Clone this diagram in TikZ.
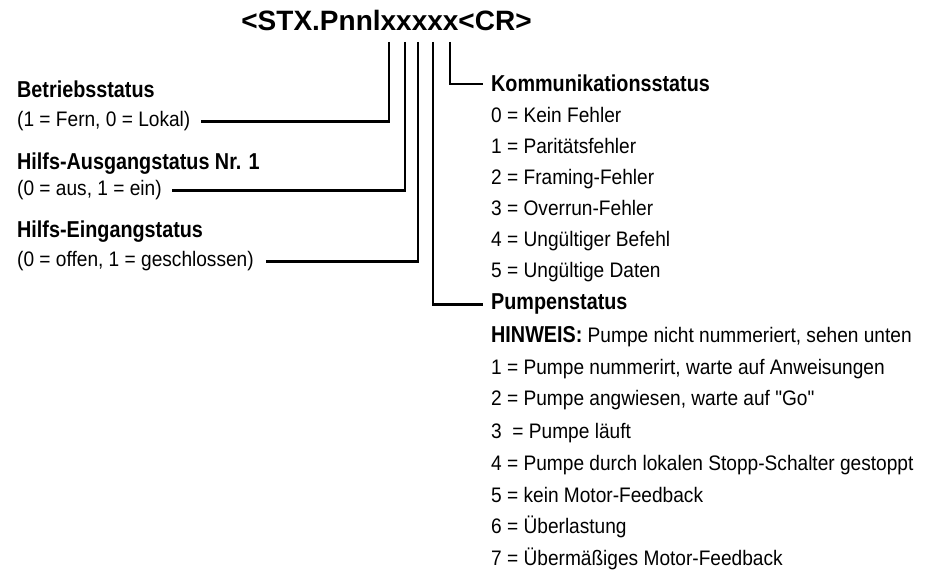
\documentclass[tikz,border=0pt]{standalone}
\usepackage{fontspec}
\setmainfont{Liberation Sans}
\newfontfamily\headfont{Liberation Sans}[FakeStretch=0.86]
\newfontfamily\bodyfont{Liberation Sans}[FakeStretch=0.91]
\newcommand{\hdtext}[1]{{\fontsize{23}{26}\selectfont\headfont\bfseries #1}}

\tikzset{
  fmttext/.style={font=\fontsize{28}{30}\selectfont\bfseries, inner sep=0pt, anchor=base},
  heading/.style={font=\fontsize{23}{26}\selectfont\headfont\bfseries, inner sep=0pt, anchor=base west},
  entry/.style={font=\fontsize{21}{24}\selectfont\bodyfont, inner sep=0pt, anchor=base west},
  bitline/.style={line width=2.2pt}
}

\begin{document}
\begin{tikzpicture}[x=1pt, y=1pt]
\useasboundingbox (0,0) rectangle (938,-572);

\node[fmttext] (fmt) at (386.5,-31) {<STX.Pnnlxxxxx<CR>};

% one stroke under each x
\coordinate (b1) at (389,-42);
\coordinate (b2) at (405,-42);
\coordinate (b3) at (418,-42);
\coordinate (b4) at (433,-42);
\coordinate (b5) at (450,-42);

% left side
\node[heading] (betr) at (17,-98) {Betriebsstatus};
\node[entry] (fern) at (17,-127) {(1 = Fern, 0 = Lokal)};
\node[heading] (ausg) at (17,-170) {Hilfs-Ausgangstatus Nr. 1};
\node[entry] (aus) at (17,-196) {(0 = aus, 1 = ein)};
\node[heading] (eing) at (17,-238) {Hilfs-Eingangstatus};
\node[entry] (offen) at (17,-267) {(0 = offen, 1 = geschlossen)};

% right side
\node[heading] (komm) at (491,-92) {Kommunikationsstatus};
\node[entry] (k0) at (491,-123) {0 = Kein Fehler};
\node[entry] (k1) at (491,-154) {1 = Paritätsfehler};
\node[entry] (k2) at (491,-185) {2 = Framing-Fehler};
\node[entry] (k3) at (491,-216) {3 = Overrun-Fehler};
\node[entry] (k4) at (491,-247) {4 = Ungültiger Befehl};
\node[entry] (k5) at (491,-278) {5 = Ungültige Daten};

\node[heading] (pump) at (491,-310) {Pumpenstatus};
\node[entry] (hinw) at (491,-342) {\hdtext{HINWEIS:} Pumpe nicht nummeriert, sehen unten};
\node[entry] (p1) at (491,-374) {1 = Pumpe nummerirt, warte auf Anweisungen};
\node[entry] (p2) at (491,-406) {2 = Pumpe angwiesen, warte auf \symbol{34}Go\symbol{34}};
\node[entry] (p3) at (491,-438) {3~ = Pumpe läuft};
\node[entry] (p4) at (491,-470) {4 = Pumpe durch lokalen Stopp-Schalter gestoppt};
\node[entry] (p5) at (491,-502) {5 = kein Motor-Feedback};
\node[entry] (p6) at (491,-533) {6 = Überlastung};
\node[entry] (p7) at (491,-565) {7 = Übermäßiges Motor-Feedback};

\draw[bitline] (b1) |- ([xshift=10pt]fern.east);
\draw[bitline] (b2) |- ([xshift=10pt]aus.east);
\draw[bitline] (b3) |- ([xshift=12pt]offen.east);
\draw[bitline] (b4) |- ([xshift=-8pt]pump.west);
\draw[bitline] (b5) |- ([xshift=-8pt]komm.west);

\end{tikzpicture}
\end{document}
